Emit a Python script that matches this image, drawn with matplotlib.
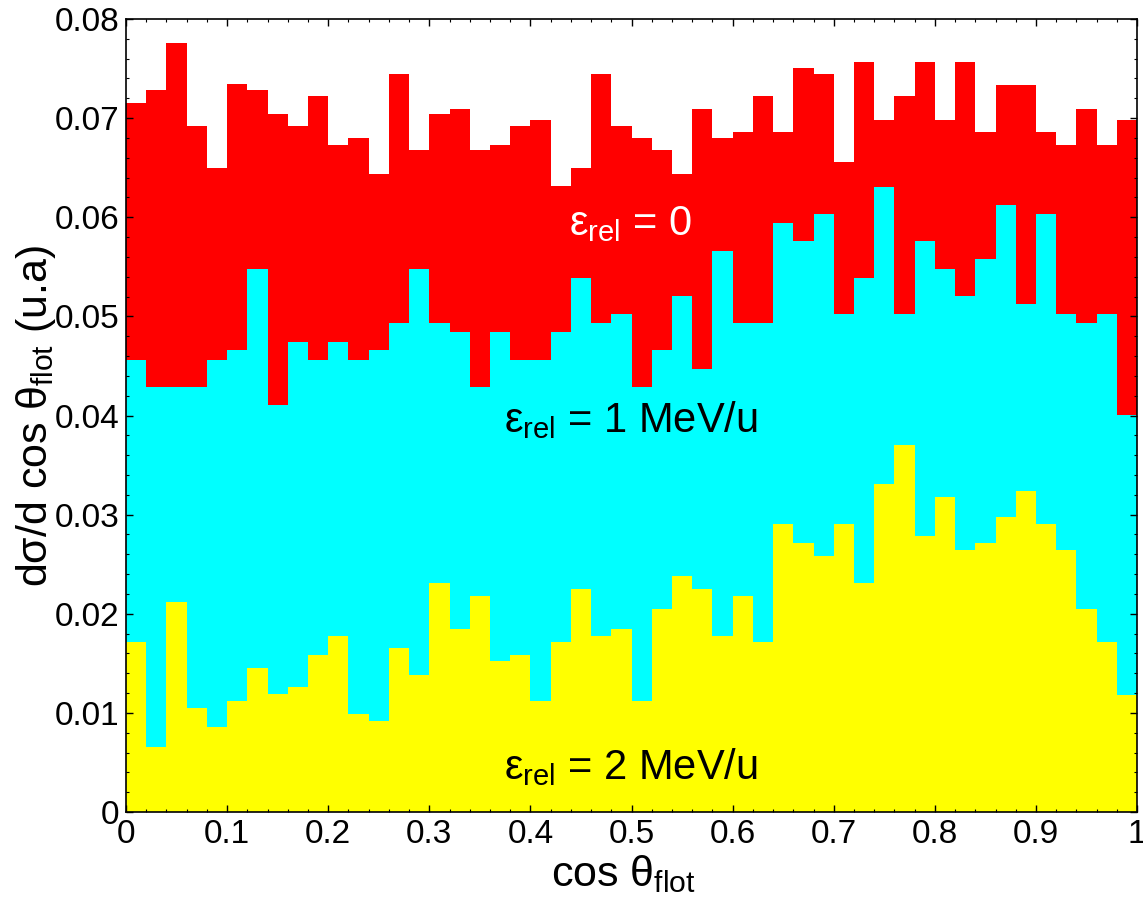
import numpy as np
import matplotlib
matplotlib.use("Agg")
import matplotlib.pyplot as plt

# bin contents (50 bins over cos theta in [0, 1])
eps0 = [0.0715, 0.0728, 0.0776, 0.0692, 0.0650, 0.0734, 0.0728, 0.0704, 0.0692, 0.0722,
        0.0673, 0.0680, 0.0644, 0.0745, 0.0668, 0.0704, 0.0709, 0.0668, 0.0673, 0.0692,
        0.0698, 0.0632, 0.0650, 0.0745, 0.0692, 0.0680, 0.0668, 0.0644, 0.0709, 0.0680,
        0.0686, 0.0722, 0.0686, 0.0751, 0.0745, 0.0656, 0.0757, 0.0698, 0.0722, 0.0757,
        0.0698, 0.0757, 0.0686, 0.0733, 0.0733, 0.0686, 0.0673, 0.0709, 0.0673, 0.0698]

eps1 = [0.0456, 0.0429, 0.0429, 0.0429, 0.0456, 0.0466, 0.0548, 0.0411, 0.0474, 0.0456,
        0.0474, 0.0456, 0.0466, 0.0493, 0.0548, 0.0493, 0.0484, 0.0429, 0.0484, 0.0456,
        0.0456, 0.0484, 0.0539, 0.0493, 0.0502, 0.0429, 0.0466, 0.0521, 0.0447, 0.0566,
        0.0493, 0.0493, 0.0594, 0.0576, 0.0603, 0.0502, 0.0539, 0.0631, 0.0502, 0.0576,
        0.0548, 0.0521, 0.0558, 0.0612, 0.0512, 0.0603, 0.0502, 0.0493, 0.0502, 0.0401]

eps2 = [0.0172, 0.0066, 0.0212, 0.0105, 0.0086, 0.0112, 0.0145, 0.0119, 0.0126, 0.0158,
        0.0178, 0.0099, 0.0092, 0.0165, 0.0138, 0.0231, 0.0185, 0.0218, 0.0152, 0.0158,
        0.0112, 0.0172, 0.0225, 0.0178, 0.0185, 0.0112, 0.0205, 0.0238, 0.0225, 0.0178,
        0.0218, 0.0172, 0.0291, 0.0271, 0.0258, 0.0291, 0.0231, 0.0331, 0.0370, 0.0278,
        0.0318, 0.0264, 0.0271, 0.0298, 0.0324, 0.0291, 0.0264, 0.0205, 0.0172, 0.0118]

edges = np.linspace(0, 1, len(eps0) + 1)

plt.rcParams['font.family'] = ['Liberation Sans', 'DejaVu Sans']
plt.rcParams['mathtext.fontset'] = 'custom'
plt.rcParams['mathtext.rm'] = 'Liberation Sans'
plt.rcParams['mathtext.it'] = 'Liberation Sans'

fig = plt.figure(figsize=(11.43, 9.09), dpi=100)
ax = fig.add_axes([0.1102, 0.1067, 0.8846, 0.8724])

# red at the back, yellow in front
ax.stairs(eps0, edges, fill=True, color='#ff0000', lw=0)
ax.stairs(eps1, edges, fill=True, color='#00ffff', lw=0)
ax.stairs(eps2, edges, fill=True, color='#ffff00', lw=0)

ax.set_xlim(0, 1)
ax.set_ylim(0, 0.08)
ax.set_xticks(np.arange(0, 1.01, 0.1))
ax.set_xticks(np.arange(0, 1.001, 0.02), minor=True)
ax.set_yticks(np.arange(0, 0.0801, 0.01))
ax.set_yticks(np.arange(0, 0.0801, 0.002), minor=True)
ax.set_xticklabels([f'{v:g}' for v in np.round(np.arange(0, 1.01, 0.1), 2)])
ax.set_yticklabels([f'{v:g}' for v in np.round(np.arange(0, 0.0801, 0.01), 3)])
ax.tick_params(which='both', direction='in', top=True, right=True, labelsize=24, pad=5)
ax.tick_params(which='major', length=5, width=1)
ax.tick_params(which='minor', length=2.5, width=0.8)
for s in ax.spines.values():
    s.set_linewidth(1.2)

ax.set_xlabel(r'cos $θ_{\rm flot}$', fontsize=31, labelpad=8)
ax.set_ylabel(r'dσ/d cos $θ_{\rm flot}$ (u.a)', fontsize=31, labelpad=-3)
ax.xaxis.set_label_coords(0.492, -0.052, transform=ax.transAxes)
ax.xaxis.label.set_va('top')

ax.text(0.499, 0.0582, r'$ε_{\rm rel}$ = 0', color='white', fontsize=30, ha='center', va='baseline')
ax.text(0.499, 0.0383, r'$ε_{\rm rel}$ = 1 MeV/u', color='black', fontsize=30, ha='center', va='baseline')
ax.text(0.499, 0.0033, r'$ε_{\rm rel}$ = 2 MeV/u', color='black', fontsize=30, ha='center', va='baseline')

fig.savefig('out.png', dpi=100)
